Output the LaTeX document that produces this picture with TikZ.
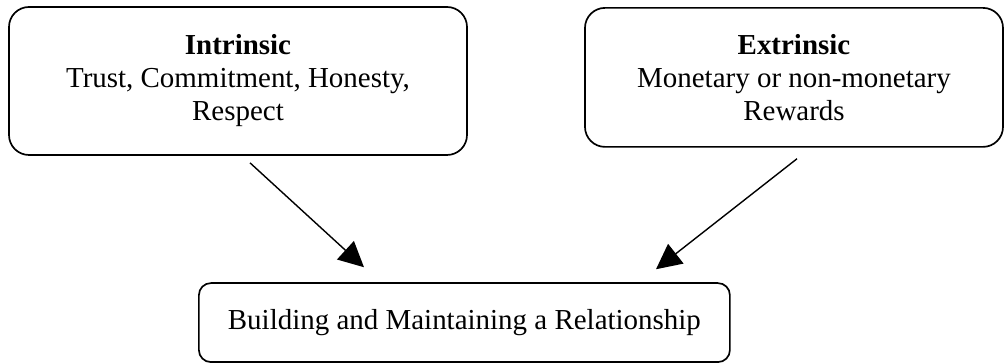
\documentclass[tikz,border=0pt]{standalone}
\usepackage{fontspec}
\setmainfont{Liberation Serif}
\usetikzlibrary{arrows.meta}

\begin{document}
\begin{tikzpicture}[
    box/.style={draw, line width=1.2pt, rounded corners=0.5cm, align=center,
        inner sep=0pt, font=\fontsize{20.6}{23.5}\selectfont},
    arr/.style={-{Triangle[length=6.3mm, width=6.2mm]}, line width=1pt}
]
    % Fix the page size
    \useasboundingbox (0,0) rectangle (25.1,9.075);

    % Top boxes
    \node[box, minimum width=11.45cm, minimum height=3.7cm] (intr) at (5.95,7.05)
        {\textbf{Intrinsic}\\Trust, Commitment, Honesty,\\Respect};
    \node[box, minimum width=10.45cm, minimum height=3.475cm] (extr) at (19.85,7.14)
        {\textbf{Extrinsic}\\Monetary or non-monetary\\Rewards};

    % Bottom box
    \node[box, rounded corners=0.3cm, minimum width=13.275cm, minimum height=1.975cm] (rel) at (11.61,1.01)
        {Building and Maintaining a Relationship};

    % Arrows
    \draw[arr] ([xshift=0.3cm, yshift=-0.175cm]intr.south) -- ([xshift=-2.51cm, yshift=0.375cm]rel.north);
    \draw[arr] ([xshift=0.075cm, yshift=-0.275cm]extr.south) -- ([xshift=4.79cm, yshift=0.325cm]rel.north);
\end{tikzpicture}
\end{document}
